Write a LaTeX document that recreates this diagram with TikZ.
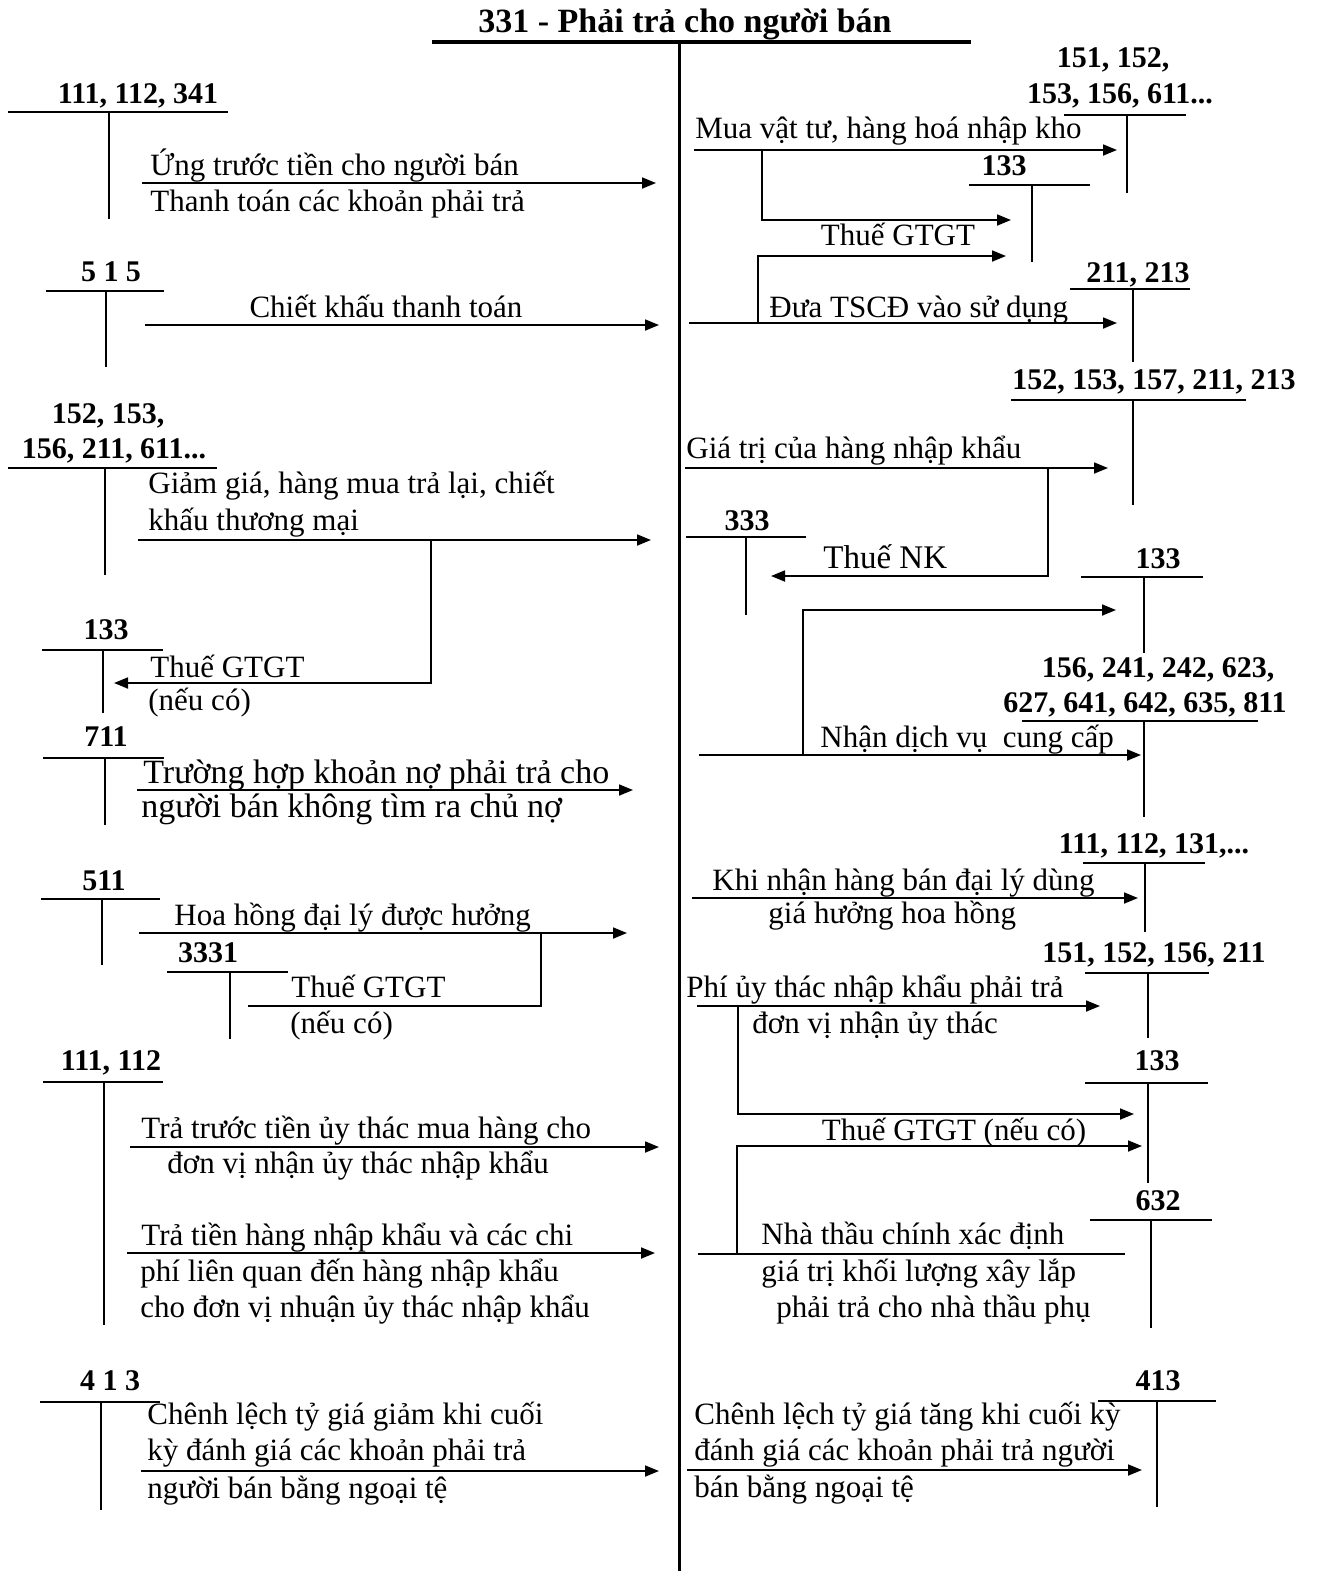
\documentclass[tikz,border=0pt]{standalone}
\usepackage{fontspec}
\setmainfont{Liberation Serif}
\usetikzlibrary{arrows.meta,positioning,calc}

% T-account: name, label position, label, left x, right x, line y, stem x, stem bottom
\newcommand{\taikhoan}[8]{%
  \node[acc] (#1) at #2 {#3};
  \draw[tline] (#4,#6) -- (#5,#6);
  \draw[tline] (#7,#6) -- (#7,#8);}

\begin{document}
\begin{tikzpicture}[x=0.5pt,y=-0.5pt,>={Triangle[length=7pt,width=5.5pt]}]
  \tikzstyle{acc}=[font=\fontsize{15}{18}\selectfont\bfseries, inner sep=0pt, anchor=base]
  \tikzstyle{txt}=[font=\fontsize{15.5}{18}\selectfont, inner sep=0pt, anchor=base west]
  \tikzstyle{big}=[font=\fontsize{17}{20}\selectfont]
  \tikzstyle{tline}=[line width=0.8pt]
  \tikzstyle{flow}=[->, line width=0.9pt]
  \useasboundingbox (0,0) rectangle (1323,1571);

  % account 331
  \node[acc, font=\fontsize{17}{20}\selectfont\bfseries] (tk331) at (685,32) {331 - Phải trả cho người bán};
  \draw[line width=1.6pt] (432,42) -- (971,42);
  \draw[line width=1.5pt] (679,42) -- (679,1571);

  % ---------- left side ----------
  \taikhoan{tk111a}{(138,103)}{111, 112, 341}{8}{228}{112}{109}{219}
  \node[txt] (ungtruoc) at (150,175) {Ứng trước tiền cho người bán};
  \node[txt] (thanhtoan) at (150,211) {Thanh toán các khoản phải trả};
  \coordinate (a1) at (142,183); \coordinate (b1) at (656,183);
  \draw[flow] (a1) -- (b1);

  \taikhoan{tk515}{(111,281)}{5 1 5}{46}{164}{291}{106}{367}
  \node[txt, anchor=base] (chietkhau) at (386,317) {Chiết khấu thanh toán};
  \coordinate (a2) at (145,325); \coordinate (b2) at (659,325);
  \draw[flow] (a2) -- (b2);

  \node[acc] (tk152a) at (108,423) {152, 153,};
  \taikhoan{tk156a}{(114,458)}{156, 211, 611...}{8}{217}{468}{105}{575}
  \node[txt] (giamgia) at (148,493) {Giảm giá, hàng mua trả lại, chiết};
  \node[txt] (khauTM) at (148,530) {khấu thương mại};
  \coordinate (a3) at (138,540); \coordinate (b3) at (651,540);
  \coordinate (k3) at (431,540); \coordinate (c3) at (114,683);
  \draw[flow] (a3) -- (b3);
  \draw[flow] (k3) |- (c3);

  \taikhoan{tk133a}{(106,639)}{133}{42}{163}{650}{103}{713}
  \node[txt] (thue1) at (150,677) {Thuế GTGT};
  \node[txt] (neuco1) at (148,710) {(nếu có)};

  \taikhoan{tk711}{(106,746)}{711}{43}{164}{758}{105}{825}
  \node[txt, big] (truonghop) at (143,783) {Trường hợp khoản nợ phải trả cho};
  \node[txt, big] (nguoiban) at (141,817) {người bán không tìm ra chủ nợ};
  \coordinate (a4) at (137,790); \coordinate (b4) at (633,790);
  \draw[flow] (a4) -- (b4);

  \taikhoan{tk511}{(104,890)}{511}{41}{160}{899}{102}{965}
  \node[txt] (hoahong) at (174,925) {Hoa hồng đại lý được hưởng};
  \coordinate (a5) at (139,933); \coordinate (b5) at (627,933);
  \coordinate (k5) at (541,933); \coordinate (c5) at (248,1006);
  \draw[flow] (a5) -- (b5);
  \draw[tline] (k5) |- (c5);

  \taikhoan{tk3331}{(208,962)}{3331}{167}{288}{972}{230}{1039}
  \node[txt] (thue2) at (291,997) {Thuế GTGT};
  \node[txt] (neuco2) at (290,1033) {(nếu có)};

  \taikhoan{tk111b}{(111,1070)}{111, 112}{43}{163}{1082}{104}{1325}
  \node[txt] (tratruoc) at (141,1138) {Trả trước tiền ủy thác mua hàng cho};
  \node[txt] (donvi1) at (167,1173) {đơn vị nhận ủy thác nhập khẩu};
  \coordinate (a6) at (130,1147); \coordinate (b6) at (659,1147);
  \draw[flow] (a6) -- (b6);
  \node[txt] (tratien) at (141,1245) {Trả tiền hàng nhập khẩu và các chi};
  \node[txt] (philq) at (140,1281) {phí liên quan đến hàng nhập khẩu};
  \node[txt] (chodv) at (140,1317) {cho đơn vị nhuận ủy thác nhập khẩu};
  \coordinate (a7) at (127,1253); \coordinate (b7) at (655,1253);
  \draw[flow] (a7) -- (b7);

  \taikhoan{tk413a}{(110,1390)}{4 1 3}{40}{160}{1402}{101}{1510}
  \node[txt] (giam1) at (147,1424) {Chênh lệch tỷ giá giảm khi cuối};
  \node[txt] (giam2) at (147,1460) {kỳ đánh giá các khoản phải trả};
  \node[txt] (giam3) at (147,1498) {người bán bằng ngoại tệ};
  \coordinate (a8) at (141,1471); \coordinate (b8) at (659,1471);
  \draw[flow] (a8) -- (b8);

  % ---------- right side ----------
  \node[acc] (tk151a) at (1113,67) {151, 152,};
  \taikhoan{tk153a}{(1120,103)}{153, 156, 611...}{1064}{1186}{115}{1127}{193}
  \node[txt] (muavattu) at (695,138) {Mua vật tư, hàng hoá nhập kho};
  \coordinate (r1) at (694,150); \coordinate (s1) at (1117,150);
  \coordinate (k6) at (762,150); \coordinate (c6) at (1011,220);
  \draw[flow] (r1) -- (s1);
  \draw[flow] (k6) |- (c6);

  \taikhoan{tk133b}{(1004,175)}{133}{969}{1090}{185}{1032}{262}
  \node[txt, anchor=base] (thue3) at (898,245) {Thuế GTGT};
  \node[txt] (duatscd) at (769,317) {Đưa TSCĐ vào sử dụng};
  \coordinate (r2) at (689,323); \coordinate (s2) at (1117,323);
  \coordinate (k7) at (758,323); \coordinate (c7) at (1006,256);
  \draw[flow] (r2) -- (s2);
  \draw[flow] (k7) |- (c7);
  \taikhoan{tk211a}{(1138,282)}{211, 213}{1070}{1190}{289}{1133}{362}

  \taikhoan{tk152b}{(1154,389)}{152, 153, 157, 211, 213}{1011}{1246}{400}{1133}{505}
  \node[txt] (giatri) at (686,458) {Giá trị của hàng nhập khẩu};
  \coordinate (r3) at (685,468); \coordinate (s3) at (1108,468);
  \coordinate (k8) at (1048,468); \coordinate (c8) at (771,576);
  \draw[flow] (r3) -- (s3);
  \draw[flow] (k8) |- (c8);

  \taikhoan{tk333}{(747,530)}{333}{686}{806}{537}{746}{615}
  \node[txt, font=\fontsize{16.5}{20}\selectfont] (thuenk) at (823,568) {Thuế NK};
  \taikhoan{tk133c}{(1158,568)}{133}{1081}{1203}{577}{1144}{653}
  \coordinate (k9) at (803,755); \coordinate (c9) at (1116,610);
  \draw[flow] (k9) |- (c9);

  \node[acc] (tk156b) at (1158,677) {156, 241, 242, 623,};
  \taikhoan{tk627}{(1145,712)}{627, 641, 642, 635, 811}{1022}{1258}{721}{1144}{817}
  \node[txt] (nhandv) at (820,747) {Nhận dịch vụ\ \ cung cấp};
  \coordinate (r4) at (699,755); \coordinate (s4) at (1141,755);
  \draw[flow] (r4) -- (s4);

  \taikhoan{tk111c}{(1154,853)}{111, 112, 131,...}{1083}{1205}{863}{1145}{932}
  \node[txt] (khinhan) at (712,890) {Khi nhận hàng bán đại lý dùng};
  \node[txt] (giahuong) at (768,923) {giá hưởng hoa hồng};
  \coordinate (r5) at (692,898); \coordinate (s5) at (1138,898);
  \draw[flow] (r5) -- (s5);

  \taikhoan{tk151b}{(1154,962)}{151, 152, 156, 211}{1085}{1209}{973}{1148}{1038}
  \node[txt] (phiuythac) at (686,997) {Phí ủy thác nhập khẩu phải trả};
  \node[txt] (donvi2) at (752,1033) {đơn vị nhận ủy thác};
  \coordinate (r6) at (697,1006); \coordinate (s6) at (1100,1006);
  \coordinate (k10) at (738,1006); \coordinate (c10) at (1134,1114);
  \draw[flow] (r6) -- (s6);
  \draw[flow] (k10) |- (c10);

  \taikhoan{tk133d}{(1157,1070)}{133}{1085}{1208}{1083}{1148}{1183}
  \node[txt, anchor=base] (thue4) at (954,1140) {Thuế GTGT (nếu có)};
  \coordinate (k11) at (737,1254); \coordinate (c11) at (1142,1146);
  \draw[flow] (k11) |- (c11);

  \taikhoan{tk632}{(1158,1210)}{632}{1090}{1212}{1220}{1151}{1328}
  \coordinate (r7) at (698,1254); \coordinate (s7) at (1125,1254);
  \draw[tline] (r7) -- (s7);
  \node[txt] (nhathau1) at (761,1244) {Nhà thầu chính xác định};
  \node[txt] (nhathau2) at (761,1281) {giá trị khối lượng xây lắp};
  \node[txt] (nhathau3) at (776,1317) {phải trả cho nhà thầu phụ};

  \taikhoan{tk413b}{(1158,1390)}{413}{1098}{1216}{1401}{1157}{1507}
  \node[txt] (tang1) at (694,1424) {Chênh lệch tỷ giá tăng khi cuối kỳ};
  \node[txt] (tang2) at (694,1460) {đánh giá các khoản phải trả người};
  \node[txt] (tang3) at (694,1497) {bán bằng ngoại tệ};
  \coordinate (r8) at (687,1470); \coordinate (s8) at (1142,1470);
  \draw[flow] (r8) -- (s8);
\end{tikzpicture}
\end{document}
